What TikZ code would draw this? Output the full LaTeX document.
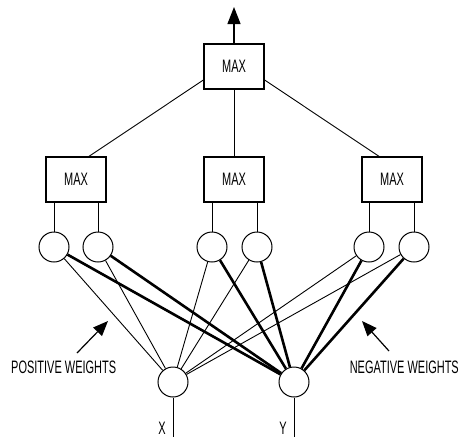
\documentclass[tikz,border=0pt]{standalone}
\usepackage{fontspec}
\setmainfont{Liberation Sans}[FakeStretch=0.61]
\usetikzlibrary{arrows.meta}
\tikzset{
  maxbox/.style={draw, line width=1.2pt, minimum width=60pt, minimum height=45pt, inner sep=0pt, font=\fontsize{18}{18}\selectfont},
  unit/.style={draw, circle, line width=1pt, minimum size=30pt, inner sep=0pt},
  thin/.style={line width=0.9pt},
  thick/.style={line width=2.6pt},
  lbl/.style={font=\fontsize{18}{18}\selectfont, inner sep=0pt},
  pointer/.style={line width=1.2pt, -{Triangle[width=12pt,length=15pt]}}
}
\begin{document}
\begin{tikzpicture}[x=1pt,y=-1pt]
\useasboundingbox (0,0) rectangle (461,437);
% boxes
\node[maxbox] (top) at (234,66.5) {MAX};
\node[maxbox] (m1) at (76,179.5) {MAX};
\node[maxbox] (m2) at (234,179.5) {MAX};
\node[maxbox] (m3) at (392,179.5) {MAX};
\coordinate (out) at (234,7);
\draw[line width=1.2pt, -{Triangle[width=13pt,length=17pt]}] (top.north) -- (out);
\draw[thin] (top.south west |- 0,80) -- (88,157);
\draw[thin] (top.south) -- (m2.north);
\draw[thin] (top.south east |- 0,80) -- (380,157);
% hidden units
\node[unit] (h1) at (54,247) {};
\node[unit] (h2) at (98,247) {};
\node[unit] (h3) at (212,247) {};
\node[unit] (h4) at (257,247) {};
\node[unit] (h5) at (369,247) {};
\node[unit] (h6) at (414,247) {};
\foreach \h/\m in {h1/m1,h2/m1,h3/m2,h4/m2,h5/m3,h6/m3}
  \draw[thin] (\h.north) -- (\h.north |- \m.south);
% input units
\node[unit] (X) at (173,382) {};
\node[unit] (Y) at (294,382) {};
\coordinate (xin) at (173,437);
\coordinate (yin) at (294,437);
\draw[thin] (X.south) -- (xin);
\draw[thin] (Y.south) -- (yin);
\node[lbl] (xl) at (162,428) {X};
\node[lbl] (yl) at (283,428) {Y};
% weights
\foreach \h in {h1,h2,h3,h4,h5,h6} {
  \draw[thin] (\h) -- (X);
  \draw[thick] (\h) -- (Y);
}
% labels
\node[lbl, anchor=west] (pos) at (11,367) {POSITIVE WEIGHTS};
\node[lbl, anchor=east] (neg) at (459,367) {NEGATIVE WEIGHTS};
\coordinate (pa) at (77,353);
\coordinate (pb) at (108,321);
\coordinate (na) at (389,351);
\coordinate (nb) at (362,321);
\draw[pointer] (pa) -- (pb);
\draw[pointer] (na) -- (nb);
\end{tikzpicture}
\end{document}
